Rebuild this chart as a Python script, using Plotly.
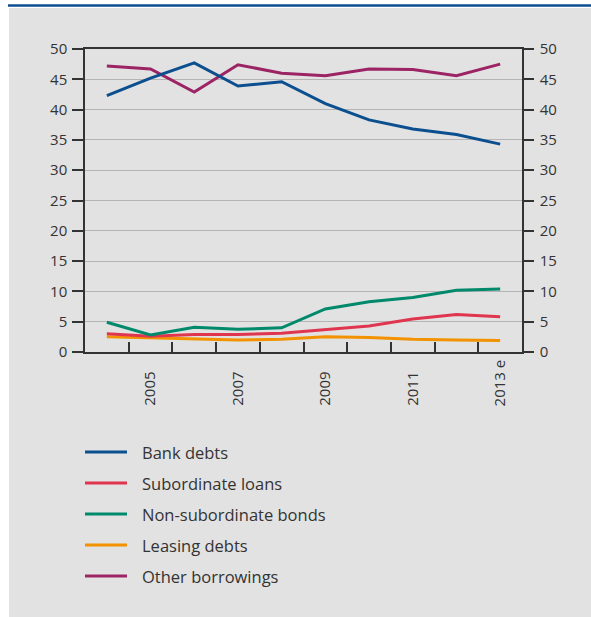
import plotly.graph_objects as go

# Financing structure, share in percent
years = ["2004", "2005", "2006", "2007", "2008", "2009", "2010", "2011", "2012", "2013 e"]
year_labels = ["", "2005", "", "2007", "", "2009", "", "2011", "", "2013 e"]

bank_debts = [42.3, 45.2, 47.7, 43.9, 44.6, 41.0, 38.3, 36.8, 35.9, 34.3]
subordinate_loans = [3.0, 2.6, 2.9, 2.9, 3.1, 3.75, 4.3, 5.45, 6.2, 5.8]
non_subordinate_bonds = [4.9, 2.8, 4.1, 3.75, 4.0, 7.1, 8.3, 9.0, 10.2, 10.4]
leasing_debts = [2.5, 2.3, 2.2, 2.0, 2.1, 2.5, 2.4, 2.1, 2.0, 1.9]
other_borrowings = [47.2, 46.7, 42.9, 47.4, 46.0, 45.6, 46.7, 46.6, 45.6, 47.5]

series_names = ["Bank debts", "Subordinate loans", "Non-subordinate bonds",
                "Leasing debts", "Other borrowings"]
series_values = [bank_debts, subordinate_loans, non_subordinate_bonds,
                 leasing_debts, other_borrowings]
series_colors = ["#0b4f8f", "#e0354f", "#00896a", "#f39200", "#9c2465"]

y_ticks = list(range(0, 51, 5))

FONT = "Open Sans"
TEXT = "#333333"
AXIS = "#333333"
GRID = "#b4b4b4"
TICK_SIZE = 15
LEGEND_SIZE = 16.5

W, H = 591, 617
L, R, T, B = 85, 69, 49, 265
pw, ph = W - L - R, H - T - B


def px_x(px):
    return (px - L) / pw


def px_y(py):
    return (H - B - py) / ph


fig = go.Figure()
# draw order: lower series first; bank debts sits on the right-hand axis
# (same 0-50 scale) so that axis gets its labels
order = [3, 1, 2, 4, 0]
for i in order:
    fig.add_trace(go.Scatter(
        x=years, y=series_values[i], name=series_names[i], mode="lines",
        line=dict(color=series_colors[i], width=3),
        showlegend=False,
        yaxis="y2" if i == 0 else "y",
    ))

nb = "\u00a0"
ticktext = [t + nb * (3 if len(t) == 4 else 0) for t in year_labels]

shapes = [
    # grey panel
    dict(type="rect", xref="paper", yref="paper",
         x0=px_x(9), x1=px_x(W + 5), y0=px_y(H + 5), y1=px_y(8),
         fillcolor="#e2e2e2", line=dict(width=0), layer="below"),
    # top rule
    dict(type="line", xref="paper", yref="paper",
         x0=px_x(8), x1=px_x(W + 5), y0=px_y(5.5), y1=px_y(5.5),
         line=dict(color="#0b4f8f", width=2.5)),
]
annotations = []
row0, step = 452, 31
for k, (name, color) in enumerate(zip(series_names, series_colors)):
    yy = px_y(row0 + k * step)
    shapes.append(dict(type="line", xref="paper", yref="paper",
                       x0=px_x(85), x1=px_x(127), y0=yy, y1=yy,
                       line=dict(color=color, width=3)))
    annotations.append(dict(xref="paper", yref="paper", x=px_x(140), y=yy,
                            text=name, showarrow=False, xanchor="left",
                            yanchor="middle",
                            font=dict(family=FONT, size=LEGEND_SIZE, color=TEXT)))

fig.update_layout(
    width=W, height=H,
    margin=dict(l=L, r=R, t=T, b=B, pad=0),
    paper_bgcolor="white",
    plot_bgcolor="white",
    font=dict(family=FONT, size=TICK_SIZE, color=TEXT),
    shapes=shapes,
    annotations=annotations,
    xaxis=dict(
        type="category", categoryorder="array", categoryarray=years,
        range=[-0.5, len(years) - 0.5],
        tickmode="array", tickvals=years, ticktext=ticktext,
        tickangle=-90, tickson="boundaries",
        ticks="inside", ticklen=10, tickwidth=1.5, tickcolor=AXIS,
        showline=True, linecolor=AXIS, linewidth=1.5, mirror=True,
        showgrid=False, tickfont=dict(size=TICK_SIZE, color=TEXT),
        ticklabelstandoff=0,
    ),
    yaxis=dict(
        range=[0, 50], tickmode="array", tickvals=y_ticks,
        ticks="outside", ticklen=11, tickwidth=1.5, tickcolor=AXIS,
        showline=True, linecolor=AXIS, linewidth=1.5,
        showgrid=True, gridcolor=GRID, gridwidth=1.2, zeroline=False,
        tickfont=dict(size=TICK_SIZE, color=TEXT), ticklabelstandoff=2,
    ),
    yaxis2=dict(
        range=[0, 50], overlaying="y", side="right",
        tickmode="array", tickvals=y_ticks,
        ticks="outside", ticklen=10, tickwidth=1.5, tickcolor=AXIS,
        showline=True, linecolor=AXIS, linewidth=1.5,
        showgrid=False, zeroline=False,
        tickfont=dict(size=TICK_SIZE, color=TEXT), ticklabelstandoff=3,
    ),
)

fig.write_html("out.html")
